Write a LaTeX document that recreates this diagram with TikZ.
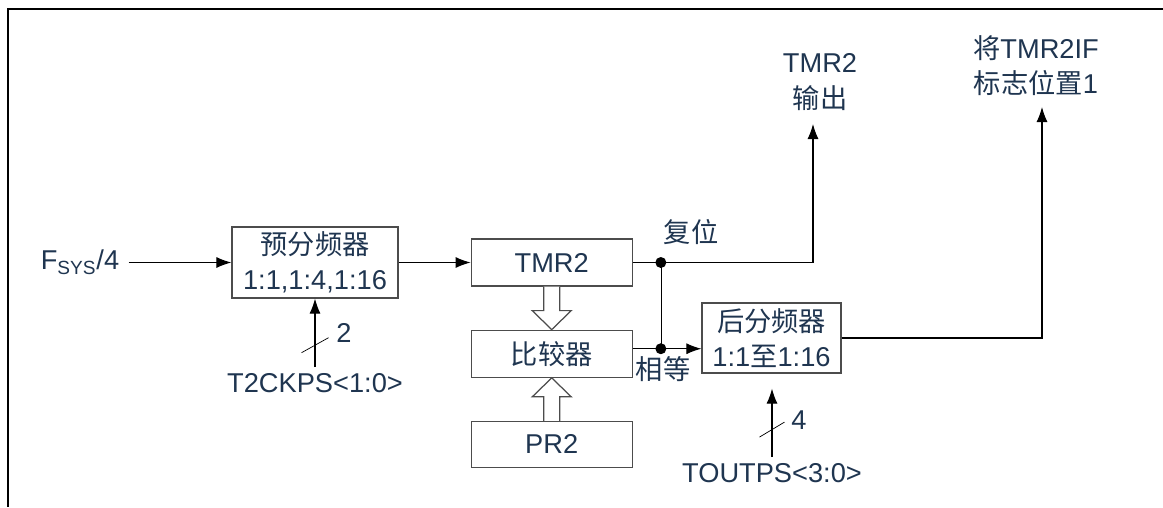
\documentclass[tikz,border=0pt]{standalone}
\usepackage{fontspec}
\setmainfont{Liberation Sans}
\newfontfamily\cjk{Noto Sans CJK SC}
\newcommand{\zh}[1]{{\cjk #1}}
\usepackage{tikz}
\usetikzlibrary{arrows.meta,calc,positioning}
\definecolor{txtblue}{HTML}{1F3550}

\begin{document}
\begin{tikzpicture}[
 x=0.2mm, y=-0.2mm,
 every node/.style={text=txtblue,font=\fontsize{15.5}{20}\selectfont},
 box/.style={draw=black!70,line width=0.7pt,align=center,inner sep=0pt},
 lbl/.style={align=center},
 arrow/.style={-{Latex[length=3mm,width=2.2mm]},line width=0.6pt},
 hollow/.style={draw=black!70,fill=white,line width=0.7pt},
 dot/.style={fill=black}
]
\useasboundingbox (0,0) rectangle (1163,507);
\draw[line width=0.8pt] (1163,9) -| (8,507);
% blocks
\node[box,minimum width=33.2mm,minimum height=14.2mm] (pre) at (315,262.5) {\zh{预分频器}\\1:1,1:4,1:16};
\node[box,right=14.4mm of pre,minimum width=32.2mm,minimum height=9.4mm] (tmr) {TMR2};
\node[box,below=8.6mm of tmr,minimum width=32.2mm,minimum height=9.4mm] (cmp) {\zh{比较器}};
\node[box,below=8.6mm of cmp,minimum width=32.2mm,minimum height=9.2mm] (pr2) {PR2};
\node[box,minimum width=27.8mm,minimum height=14mm] (post) at (771.5,338) {\zh{后分频器}\\1:1\zh{至}1:16};
% labels
\node[lbl,outer xsep=2pt] (fsys) at (80,262.5) {F\textsubscript{SYS}/4};
\node[lbl] (ckps) at (315,383) {T2CKPS<1:0>};
\node[lbl] (two) at (344,333) {2};
\node[lbl] (toutps) at (772,473) {TOUTPS<3:0>};
\node[lbl] (four) at (799,420) {4};
\node[lbl] (reset) at (691,232) {\zh{复位}};
\node[lbl] (equal) at (663,369) {\zh{相等}};
\node[lbl,anchor=south,outer ysep=4.5pt] (tmrout) at (820,124) {TMR2\\\zh{输出}};
\node[lbl,anchor=south,outer ysep=3pt] (flag) at (1036,107) {\zh{将}TMR2IF\\\zh{标志位置}1};
\coordinate (j1) at ([xshift=5.6mm]tmr.east);
\coordinate (j2) at ([yshift=1mm]j1 |- cmp.east);
% connectors
\draw[arrow] (fsys) -- (pre);
\draw[arrow] (pre) -- (tmr);
\draw[arrow] (ckps.north) -- coordinate[pos=0.32] (s1) (pre.south);
\draw (s1) ++(-13.5,7.5) -- ++(27,-15);
\draw[arrow,shorten >=3mm] (toutps.north) -- coordinate[pos=0.33] (s2) (toutps.north |- post.south);
\draw (s2) ++(-12.5,7.5) -- ++(25,-15);
\draw[arrow] (tmr.east) -- (j1) -| ([xshift=-1.4mm]tmrout.south);
\draw (j1) -- (j2);
\draw[arrow] (cmp.east |- j2) -- (j2) -- (j2 -| post.west);
\draw[arrow] (post.east) -| ([xshift=1.2mm]flag.south);
\fill[dot] (j1) circle (1.1mm);
\fill[dot] (j2) circle (1.1mm);
% hollow arrows
\draw[hollow] ([xshift=-1.6mm]tmr.south) -- ++(0,24) -- ++(-11.5,0) -- (cmp.north) -- ++(19.5,-19) -- ++(-11.5,0) -- ++(0,-24);
\draw[hollow] ([xshift=-1.6mm]pr2.north) -- ++(0,-24) -- ++(-11.5,0) -- (cmp.south) -- ++(19.5,19) -- ++(-11.5,0) -- ++(0,24);
\end{tikzpicture}
\end{document}
